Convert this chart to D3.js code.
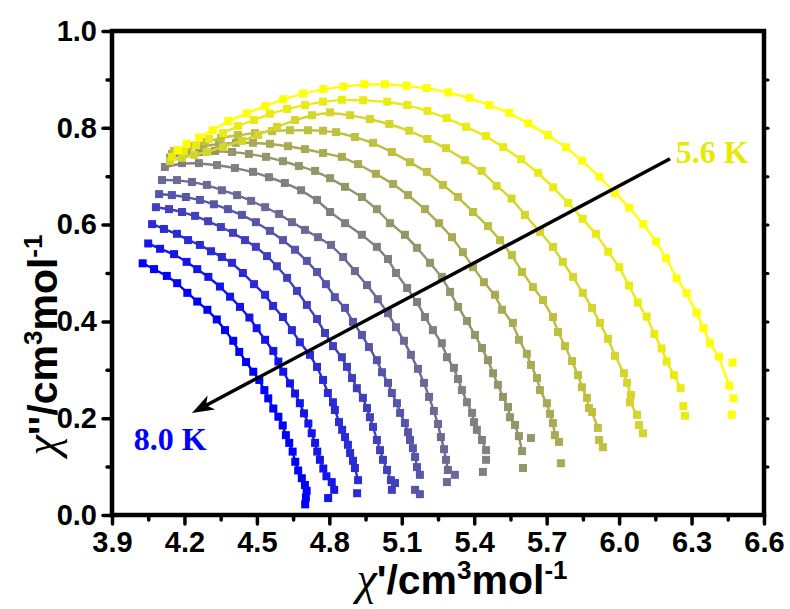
<!DOCTYPE html>
<html>
<head>
<meta http-equiv="Content-type" content="text/html; charset=utf-8">
<title>Cole-Cole plot</title>
<script src="https://cdn.jsdelivr.net/npm/d3@7"></script>
<style>
  body { margin: 0; background: #fff; }
  svg text { font-family: "Liberation Sans", Arial, sans-serif; font-weight: bold; }
</style>
</head>
<body>
<svg id="chart" width="790" height="609"></svg>
<script type="text/javascript">

// temperatures, from the blue curve (8.0 K) to the yellow one (5.6 K)
var temps = ["8.0", "7.8", "7.6", "7.4", "7.2", "7.0", "6.8", "6.6", "6.4", "6.2", "6.0", "5.8", "5.6"];

// [chi', chi'']
var c80 = [[4.027,0.520],[4.074,0.508],[4.127,0.494],[4.170,0.479],[4.212,0.459],[4.253,0.441],[4.295,0.424],[4.334,0.404],[4.368,0.382],[4.402,0.360],[4.427,0.337],[4.455,0.316],[4.485,0.296],[4.510,0.279],[4.531,0.258],[4.547,0.241],[4.568,0.220],[4.589,0.203],[4.607,0.185],[4.620,0.165],[4.634,0.149],[4.648,0.131],[4.659,0.110],[4.671,0.092],[4.686,0.076],[4.699,0.062],[4.706,0.050],[4.703,0.036],[4.700,0.022]];
var c78 = [[4.050,0.561],[4.099,0.550],[4.157,0.539],[4.209,0.523],[4.253,0.508],[4.299,0.492],[4.347,0.472],[4.389,0.451],[4.430,0.430],[4.469,0.408],[4.499,0.386],[4.534,0.362],[4.568,0.339],[4.589,0.317],[4.609,0.296],[4.637,0.272],[4.658,0.251],[4.678,0.231],[4.695,0.210],[4.713,0.189],[4.727,0.169],[4.741,0.149],[4.750,0.131],[4.761,0.114],[4.775,0.096],[4.788,0.080],[4.810,0.068],[4.820,0.052],[4.795,0.035]];
var c76 = [[4.066,0.601],[4.115,0.591],[4.169,0.581],[4.215,0.568],[4.264,0.558],[4.310,0.545],[4.355,0.533],[4.397,0.521],[4.442,0.500],[4.488,0.477],[4.534,0.455],[4.567,0.432],[4.608,0.409],[4.645,0.382],[4.678,0.357],[4.720,0.331],[4.749,0.306],[4.774,0.279],[4.794,0.252],[4.815,0.233],[4.823,0.217],[4.840,0.192],[4.853,0.176],[4.865,0.161],[4.877,0.145],[4.886,0.128],[4.898,0.112],[4.906,0.097],[4.919,0.072],[4.915,0.045]];
var c74 = [[4.082,0.636],[4.136,0.632],[4.190,0.626],[4.244,0.618],[4.298,0.607],[4.351,0.595],[4.401,0.583],[4.451,0.568],[4.496,0.554],[4.542,0.535],[4.583,0.514],[4.625,0.490],[4.666,0.463],[4.707,0.434],[4.749,0.405],[4.782,0.376],[4.815,0.349],[4.852,0.326],[4.873,0.306],[4.894,0.283],[4.914,0.262],[4.939,0.242],[4.956,0.221],[4.968,0.202],[4.981,0.182],[4.997,0.155],[5.010,0.134],[5.022,0.114],[5.039,0.093],[5.055,0.072],[5.072,0.066],[5.059,0.052]];
var c72 = [[4.095,0.663],[4.148,0.661],[4.206,0.657],[4.264,0.651],[4.322,0.642],[4.380,0.632],[4.438,0.620],[4.496,0.605],[4.554,0.587],[4.608,0.568],[4.658,0.548],[4.707,0.525],[4.749,0.502],[4.786,0.477],[4.823,0.450],[4.865,0.428],[4.898,0.399],[4.935,0.372],[4.964,0.347],[4.997,0.320],[5.018,0.295],[5.043,0.273],[5.059,0.252],[5.080,0.231],[5.093,0.211],[5.113,0.190],[5.126,0.171],[5.134,0.155],[5.146,0.138],[5.155,0.120],[5.163,0.099],[5.175,0.083],[5.155,0.052],[5.175,0.043]];
var c70 = [[4.107,0.692],[4.169,0.692],[4.231,0.688],[4.293,0.682],[4.355,0.671],[4.418,0.661],[4.476,0.649],[4.534,0.636],[4.592,0.622],[4.645,0.605],[4.699,0.589],[4.753,0.574],[4.807,0.558],[4.857,0.533],[4.906,0.504],[4.956,0.475],[5.001,0.446],[5.043,0.417],[5.076,0.388],[5.109,0.360],[5.138,0.331],[5.167,0.302],[5.192,0.273],[5.213,0.244],[5.233,0.215],[5.250,0.188],[5.262,0.161],[5.275,0.136],[5.283,0.114],[5.291,0.093],[5.320,0.083],[5.287,0.068]];
var c68 = [[4.119,0.719],[4.190,0.727],[4.260,0.727],[4.335,0.723],[4.409,0.717],[4.484,0.709],[4.550,0.698],[4.616,0.686],[4.683,0.671],[4.749,0.651],[4.803,0.626],[4.865,0.603],[4.935,0.579],[4.997,0.554],[5.043,0.529],[5.076,0.500],[5.122,0.469],[5.163,0.440],[5.196,0.409],[5.229,0.382],[5.266,0.355],[5.287,0.326],[5.316,0.304],[5.333,0.281],[5.349,0.258],[5.370,0.233],[5.391,0.211],[5.399,0.192],[5.411,0.176],[5.432,0.155],[5.449,0.134],[5.449,0.114],[5.436,0.089]];
var c66 = [[4.140,0.738],[4.198,0.746],[4.260,0.750],[4.327,0.752],[4.397,0.750],[4.467,0.746],[4.538,0.740],[4.608,0.731],[4.674,0.721],[4.741,0.711],[4.803,0.696],[4.865,0.678],[4.935,0.657],[4.997,0.632],[5.051,0.603],[5.113,0.579],[5.163,0.552],[5.217,0.521],[5.266,0.492],[5.300,0.461],[5.333,0.430],[5.370,0.401],[5.403,0.372],[5.432,0.345],[5.457,0.320],[5.478,0.293],[5.498,0.269],[5.519,0.244],[5.540,0.223],[5.548,0.202],[5.569,0.186],[5.585,0.163],[5.598,0.132],[5.635,0.159],[5.602,0.097]];
var c64 = [[4.148,0.746],[4.211,0.756],[4.277,0.762],[4.343,0.767],[4.413,0.769],[4.484,0.769],[4.554,0.767],[4.629,0.762],[4.699,0.756],[4.774,0.748],[4.852,0.740],[4.919,0.725],[4.993,0.705],[5.064,0.684],[5.126,0.661],[5.196,0.632],[5.254,0.603],[5.308,0.574],[5.353,0.543],[5.395,0.512],[5.440,0.481],[5.486,0.455],[5.515,0.424],[5.560,0.397],[5.585,0.362],[5.618,0.333],[5.635,0.310],[5.660,0.283],[5.672,0.258],[5.701,0.231],[5.714,0.209],[5.726,0.190],[5.734,0.165],[5.751,0.151],[5.759,0.107]];
var c62 = [[4.157,0.752],[4.219,0.762],[4.285,0.771],[4.351,0.779],[4.422,0.785],[4.492,0.789],[4.563,0.793],[4.637,0.795],[4.712,0.795],[4.774,0.794],[4.828,0.791],[4.906,0.781],[4.981,0.769],[5.059,0.750],[5.134,0.729],[5.204,0.709],[5.271,0.682],[5.333,0.657],[5.395,0.626],[5.457,0.597],[5.507,0.568],[5.556,0.537],[5.598,0.502],[5.643,0.471],[5.685,0.444],[5.726,0.409],[5.747,0.378],[5.776,0.349],[5.805,0.318],[5.830,0.289],[5.846,0.264],[5.867,0.242],[5.875,0.221],[5.888,0.213],[5.912,0.180],[5.917,0.155],[5.933,0.140]];
var c60 = [[4.140,0.731],[4.190,0.738],[4.240,0.744],[4.293,0.750],[4.360,0.760],[4.438,0.773],[4.505,0.785],[4.583,0.802],[4.658,0.816],[4.728,0.826],[4.803,0.832],[4.886,0.826],[4.968,0.818],[5.048,0.808],[5.131,0.794],[5.206,0.777],[5.283,0.758],[5.362,0.733],[5.431,0.711],[5.493,0.680],[5.555,0.654],[5.610,0.620],[5.672,0.585],[5.726,0.554],[5.767,0.523],[5.809,0.492],[5.850,0.459],[5.888,0.428],[5.921,0.397],[5.954,0.364],[5.983,0.329],[6.020,0.293],[6.033,0.273],[6.049,0.248],[6.045,0.233],[6.074,0.207],[6.082,0.186],[6.099,0.169]];
var c58 = [[4.148,0.740],[4.198,0.752],[4.248,0.764],[4.302,0.777],[4.360,0.789],[4.422,0.804],[4.488,0.816],[4.554,0.829],[4.625,0.839],[4.699,0.847],[4.774,0.854],[4.852,0.858],[4.940,0.857],[5.040,0.854],[5.123,0.847],[5.206,0.835],[5.286,0.820],[5.366,0.802],[5.449,0.783],[5.520,0.760],[5.594,0.735],[5.665,0.707],[5.727,0.677],[5.789,0.645],[5.849,0.612],[5.904,0.581],[5.955,0.544],[6.001,0.512],[6.041,0.474],[6.077,0.439],[6.114,0.410],[6.146,0.374],[6.176,0.344],[6.197,0.317],[6.227,0.289],[6.255,0.262],[6.266,0.225],[6.273,0.205]];
var c56 = [[4.172,0.754],[4.209,0.767],[4.261,0.780],[4.317,0.795],[4.382,0.814],[4.458,0.830],[4.534,0.845],[4.609,0.859],[4.692,0.871],[4.775,0.880],[4.858,0.885],[4.945,0.890],[5.030,0.890],[5.120,0.887],[5.203,0.882],[5.293,0.873],[5.380,0.862],[5.462,0.847],[5.545,0.831],[5.624,0.809],[5.705,0.785],[5.780,0.760],[5.847,0.732],[5.918,0.699],[5.983,0.665],[6.042,0.635],[6.100,0.601],[6.153,0.565],[6.194,0.531],[6.238,0.489],[6.280,0.458],[6.321,0.418],[6.349,0.386],[6.376,0.355],[6.414,0.327],[6.456,0.267],[6.470,0.315],[6.473,0.241],[6.466,0.207]];

var series = [c80, c78, c76, c74, c72, c70, c68, c66, c64, c62, c60, c58, c56];

// which points the fitted line runs over: skip the first few / leave the stray last ones
var fitFrom = [0, 0, 0, 0, 0, 0, 0, 0, 0, 0, 0, 4, 2];
var fitDrop = [2, 2, 1, 2, 2, 2, 2, 2, 1, 2, 2, 2, 3];

var xTicks = [3.9, 4.2, 4.5, 4.8, 5.1, 5.4, 5.7, 6.0, 6.3, 6.6];
var xMinor = [4.05, 4.35, 4.65, 4.95, 5.25, 5.55, 5.85, 6.15, 6.45];
var yTicks = [0.0, 0.2, 0.4, 0.6, 0.8, 1.0];
var yMinor = [0.1, 0.3, 0.5, 0.7, 0.9];
var yRight = [0.1, 0.2, 0.3, 0.4, 0.5, 0.6, 0.7, 0.8, 0.9];

var svg = d3.select("#chart");
var x = d3.scaleLinear().domain([3.9, 6.6]).range([112, 764]);
var y = d3.scaleLinear().domain([0, 1]).range([515, 31]);
var colorOf = d3.interpolateRgb("#0000ff", "#ffff00");

var line = d3.line()
    .x(function(d) { return x(d[0]); })
    .y(function(d) { return y(d[1]); })
    .curve(d3.curveBasis);

var plot = svg.append("g");
var sq = 8;

series.forEach(function(pts, i) {
  var c = colorOf(i / (series.length - 1));
  var fit = pts.slice(fitFrom[i], pts.length - fitDrop[i]);
  plot.append("path")
      .datum(fit)
      .attr("d", line)
      .attr("fill", "none")
      .attr("stroke", c)
      .attr("stroke-width", 2.4);
  plot.append("g").selectAll("rect")
      .data(pts)
      .enter().append("rect")
      .attr("x", function(d) { return x(d[0]) - sq / 2; })
      .attr("y", function(d) { return y(d[1]) - sq / 2; })
      .attr("width", sq)
      .attr("height", sq)
      .attr("fill", c);
});

// axes
function styleAxis(g, w) {
  g.select(".domain").remove();
  g.selectAll(".tick line").attr("stroke", "#000").attr("stroke-width", w).attr("stroke-linecap", "round");
  g.selectAll(".tick text").attr("fill", "#000").style("font-size", "29px").style("font-weight", "bold")
      .style("font-family", "'Liberation Sans', Arial, sans-serif");
}

svg.append("g").attr("transform", "translate(0,515)")
    .call(d3.axisBottom(x).tickValues(xTicks).tickSize(9).tickPadding(7).tickFormat(d3.format(".1f")))
    .call(styleAxis, 3.5);
svg.append("g").attr("transform", "translate(0,515)")
    .call(d3.axisBottom(x).tickValues(xMinor).tickSize(5).tickFormat(""))
    .call(styleAxis, 3.5);
svg.append("g").attr("transform", "translate(112,0)")
    .call(d3.axisLeft(y).tickValues(yTicks).tickSize(9).tickPadding(6).tickFormat(d3.format(".1f")))
    .call(styleAxis, 3.5);
svg.append("g").attr("transform", "translate(112,0)")
    .call(d3.axisLeft(y).tickValues(yMinor).tickSize(5).tickFormat(""))
    .call(styleAxis, 3.5);
svg.append("g").attr("transform", "translate(764,0)")
    .call(d3.axisRight(y).tickValues(yRight).tickSize(4).tickFormat(""))
    .call(styleAxis, 3);

svg.append("rect")
    .attr("x", 112).attr("y", 31)
    .attr("width", 764 - 112).attr("height", 515 - 31)
    .attr("fill", "none").attr("stroke", "#000").attr("stroke-width", 4.5);

// axis titles
var xt = svg.append("text").attr("x", 462).attr("y", 594).attr("text-anchor", "middle").style("font-size", "41px");
xt.append("tspan").style("font-family", "'Liberation Serif', serif").style("font-style", "italic").style("font-weight", "normal").style("font-size", "46px").text("χ");
xt.append("tspan").text("'/cm");
xt.append("tspan").attr("dy", -15).style("font-size", "26px").text("3");
xt.append("tspan").attr("dy", 15).text("mol");
xt.append("tspan").attr("dy", -15).style("font-size", "26px").text("-1");

var yt = svg.append("text").attr("transform", "translate(57,345) rotate(-90)").attr("text-anchor", "middle").style("font-size", "41px");
yt.append("tspan").style("font-family", "'Liberation Serif', serif").style("font-style", "italic").style("font-weight", "normal").style("font-size", "46px").text("χ");
yt.append("tspan").text("''/cm");
yt.append("tspan").attr("dy", -15).style("font-size", "26px").text("3");
yt.append("tspan").attr("dy", 15).text("mol");
yt.append("tspan").attr("dy", -15).style("font-size", "26px").text("-1");

// arrow from 5.6 K down to 8.0 K
var a0 = [x(6.211), y(0.736)], a1 = [x(4.231), y(0.211)];
var ang = Math.atan2(a1[1] - a0[1], a1[0] - a0[0]);
var headLen = 22, headW = 8;
var back = [a1[0] - headLen * Math.cos(ang), a1[1] - headLen * Math.sin(ang)];
svg.append("line")
    .attr("x1", a0[0]).attr("y1", a0[1])
    .attr("x2", a1[0] - 12 * Math.cos(ang)).attr("y2", a1[1] - 12 * Math.sin(ang))
    .attr("stroke", "#000").attr("stroke-width", 3.5);
var notch = [a1[0] - 16 * Math.cos(ang), a1[1] - 16 * Math.sin(ang)];
svg.append("path")
    .attr("d", "M" + a1[0] + "," + a1[1] +
      "L" + (back[0] + headW * Math.sin(ang)) + "," + (back[1] - headW * Math.cos(ang)) +
      "L" + notch[0] + "," + notch[1] +
      "L" + (back[0] - headW * Math.sin(ang)) + "," + (back[1] + headW * Math.cos(ang)) + "Z")
    .attr("fill", "#000");

svg.append("text")
    .attr("x", x(6.235)).attr("y", y(0.727))
    .style("font-family", "'Liberation Serif', 'Times New Roman', serif")
    .style("font-size", "32px")
    .attr("fill", "#e8e800")
    .text(temps[12] + " K");
svg.append("text")
    .attr("x", x(3.99)).attr("y", y(0.134))
    .style("font-family", "'Liberation Serif', 'Times New Roman', serif")
    .style("font-size", "32px")
    .attr("fill", "#0000ff")
    .text(temps[0] + " K");

</script>
</body>
</html>
